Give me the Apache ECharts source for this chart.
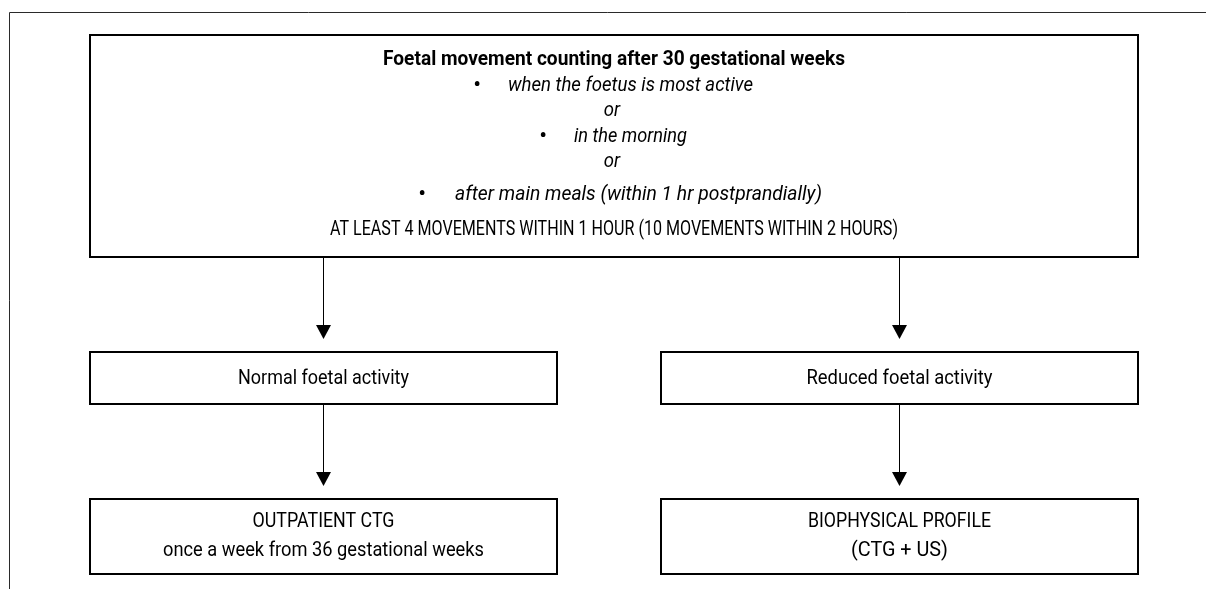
<!DOCTYPE html>
<html>
<head>
<meta charset="utf-8">
<script src="https://cdn.jsdelivr.net/npm/echarts@6/dist/echarts.min.js"></script>
<style>
html,body{margin:0;padding:0;background:#fff;}
#chart{width:1206px;height:589px;}
</style>
</head>
<body>
<div id="chart"></div>
<script>
// ---- content (texts of the flowchart) ----
const titleText = 'Foetal movement counting after 30 gestational weeks';
const bulletItems = ['when the foetus is most active', 'in the morning', 'after main meals (within 1 hr postprandially)'];
const separatorWord = 'or';
const ruleText = 'AT LEAST 4 MOVEMENTS WITHIN 1 HOUR (10 MOVEMENTS WITHIN 2 HOURS)';
const outcomeLabels = ['Normal foetal activity', 'Reduced foetal activity'];
const actionLines = [
  ['OUTPATIENT CTG', 'once a week from 36 gestational weeks'],
  ['BIOPHYSICAL PROFILE', '(CTG + US)']
];
// edges: from box index -> to box index (0 = top box, 1/2 = outcomes, 3/4 = actions)
const edges = [[0, 1], [0, 2], [1, 3], [2, 4]];

// ---- layout (page units, y downwards) ----
const layout = {
  frame: { x: 9, y: 12 },
  boxes: [
    [90, 35, 1138, 257],
    [90, 352, 557, 404],
    [661, 352, 1138, 404],
    [90, 499, 557, 574],
    [661, 499, 1138, 574]
  ],
  mainLines: [60, 86, 111, 137, 162, 195, 230],
  titleWidth: 462,
  ruleWidth: 568,
  bullets: [
    { bx: 477, tx: 508, w: 245 },
    { bx: 543, tx: 574, w: 113 },
    { bx: 422, tx: 455, w: 367 }
  ],
  orX: 612,
  outcomeY: 379,
  outcomeWidths: [171, 186],
  actionLineY: [522, 551],
  actionWidths: [[142, 321], [183, 97]],
  arrowGap: 13
};

const FF = "Roboto,'Open Sans',sans-serif";
const fonts = {
  title: 'bold 20px ' + FF,
  italic: 'italic 20px ' + FF,
  rule: '20px ' + FF,
  box: '21px ' + FF,
  bullet: 'bold 20px ' + FF
};

const measureCtx = document.createElement('canvas').getContext('2d');
function measure(txt, font) {
  measureCtx.font = font;
  return measureCtx.measureText(txt).width;
}

// text fitted to a target width by horizontal scaling (condensed look)
function fitText(txt, x, y, font, width, align) {
  const k = width / measure(txt, font);
  return {
    type: 'text', x: x, y: y, scaleX: k, scaleY: 1,
    style: { text: txt, x: 0, y: 0, font: font, fill: '#000', align: align || 'center', verticalAlign: 'middle' }
  };
}

function renderFrame(params, api) {
  const tl = api.coord([layout.frame.x, layout.frame.y]);
  const tr = api.coord([1206, layout.frame.y]);
  const bl = api.coord([layout.frame.x, 589]);
  return {
    type: 'polyline',
    shape: { points: [[bl[0] + 0.5, bl[1]], [tl[0] + 0.5, tl[1] + 0.5], [tr[0], tr[1] + 0.5]] },
    style: { stroke: '#2a2a2a', lineWidth: 1, fill: null }
  };
}

function renderBox(params, api) {
  const i = api.value(0);
  const b = layout.boxes[i];
  const p0 = api.coord([b[0], b[1]]);
  const p1 = api.coord([b[2], b[3]]);
  const cx = (p0[0] + p1[0]) / 2;
  const children = [{
    type: 'rect',
    shape: { x: p0[0], y: p0[1], width: p1[0] - p0[0], height: p1[1] - p0[1] },
    style: { stroke: '#000', lineWidth: 2, fill: '#fff' }
  }];
  const Y = (v) => api.coord([0, v])[1];
  const X = (v) => api.coord([v, 0])[0];
  if (i === 0) {
    const L = layout.mainLines;
    children.push(fitText(titleText, cx, Y(L[0]), fonts.title, layout.titleWidth));
    const bulletRows = [L[1], L[3], L[5]];
    const orRows = [L[2], L[4]];
    bulletItems.forEach((t, k) => {
      const bl = layout.bullets[k];
      children.push({
        type: 'text',
        style: { text: '•', x: X(bl.bx), y: Y(bulletRows[k]), font: fonts.bullet, fill: '#000', align: 'center', verticalAlign: 'middle' }
      });
      children.push(fitText(t, X(bl.tx), Y(bulletRows[k]), fonts.italic, bl.w, 'left'));
    });
    const b0 = layout.bullets[0];
    const orScale = b0.w / measure(bulletItems[0], fonts.italic);
    orRows.forEach((r) => children.push(
      fitText(separatorWord, X(layout.orX), Y(r), fonts.italic, orScale * measure(separatorWord, fonts.italic))
    ));
    children.push(fitText(ruleText, cx, Y(L[6]), fonts.rule, layout.ruleWidth));
  } else if (i === 1 || i === 2) {
    children.push(fitText(outcomeLabels[i - 1], cx, Y(layout.outcomeY), fonts.box, layout.outcomeWidths[i - 1]));
  } else {
    const lines = actionLines[i - 3];
    lines.forEach((t, k) => children.push(
      fitText(t, cx, Y(layout.actionLineY[k]), fonts.box, layout.actionWidths[i - 3][k])
    ));
  }
  return { type: 'group', children: children };
}

function renderEdge(params, api) {
  const e = edges[api.value(0)];
  const a = layout.boxes[e[0]], b = layout.boxes[e[1]];
  const x = (b[0] + b[2]) / 2;
  const s = api.coord([x, a[3]]);
  const t = api.coord([x, b[1] - layout.arrowGap]);
  const head = 14, half = 7.5;
  const px = Math.round(s[0]) - 0.5;
  return {
    type: 'group',
    children: [
      { type: 'line', shape: { x1: px, y1: s[1], x2: px, y2: t[1] - head + 1 }, style: { stroke: '#000', lineWidth: 1 } },
      { type: 'polygon', shape: { points: [[px - half, t[1] - head], [px + half, t[1] - head], [px, t[1]]] }, style: { fill: '#000' } }
    ]
  };
}

const chart = echarts.init(document.getElementById('chart'), null, { renderer: 'canvas' });
chart.setOption({
  animation: false,
  backgroundColor: '#fff',
  grid: { left: 0, right: 0, top: 0, bottom: 0 },
  xAxis: { type: 'value', min: 0, max: 1206, show: false },
  yAxis: { type: 'value', min: 0, max: 589, inverse: true, show: false },
  series: [
    { type: 'custom', renderItem: renderFrame, data: [[0, 0]], clip: false, silent: true },
    { type: 'custom', renderItem: renderEdge, data: edges.map((_, k) => [k, 0]), clip: false, silent: true },
    { type: 'custom', renderItem: renderBox, data: layout.boxes.map((_, k) => [k, 0]), clip: false, silent: true }
  ]
});
</script>
</body>
</html>
